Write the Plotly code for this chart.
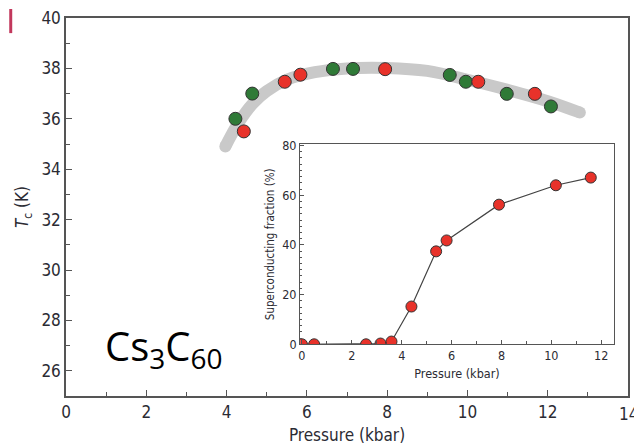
import plotly.graph_objects as go

# Tc vs pressure for Cs3C60 (two sample series)
green_p = [4.22, 4.64, 6.65, 7.15, 9.56, 9.96, 10.98, 12.08]
green_tc = [36.0, 37.0, 37.98, 37.98, 37.74, 37.47, 36.99, 36.49]
red_p = [4.43, 5.45, 5.84, 7.95, 10.27, 11.68]
red_tc = [35.5, 37.47, 37.75, 37.97, 37.47, 36.99]

# guide-to-the-eye band
band_p = [3.97, 4.3, 4.65, 5.0, 5.5, 6.2, 7.0, 8.0, 9.0, 10.0, 11.0, 12.0, 12.8]
band_tc = [34.9, 35.85, 36.6, 37.1, 37.55, 37.85, 38.0, 38.02, 37.9, 37.55, 37.15, 36.7, 36.25]

# inset: superconducting fraction vs pressure
frac_p = [0.0, 0.49, 2.57, 3.15, 3.59, 4.39, 5.38, 5.8, 7.9, 10.18, 11.58]
frac_pct = [0.0, 0.0, 0.0, 0.3, 1.1, 15.2, 37.4, 41.8, 56.2, 64.0, 67.1]

main_ticks = [0, 2, 4, 6, 8, 10, 12, 14]
tc_ticks = [26, 28, 30, 32, 34, 36, 38, 40]
inset_xticks = [0, 2, 4, 6, 8, 10, 12]
inset_yticks = [0, 20, 40, 60, 80]

FONT = "DejaVu Sans Condensed, Liberation Sans Narrow, Liberation Sans, sans-serif"
AXC = "#555555"
TXT = "#2b2b33"
GREEN = "#2f7a37"
RED = "#e8322a"

fig = go.Figure()

fig.add_trace(go.Scatter(
    x=band_p, y=band_tc, mode="lines", line=dict(color="#c9c9c9", width=12, shape="spline"),
    hoverinfo="skip", showlegend=False))
fig.add_trace(go.Scatter(
    x=[band_p[0], band_p[-1]], y=[band_tc[0], band_tc[-1]], mode="markers",
    marker=dict(color="#c9c9c9", size=12, line=dict(width=0)), hoverinfo="skip", showlegend=False))

marker_line = dict(color="#333333", width=1)
fig.add_trace(go.Scatter(x=green_p, y=green_tc, mode="markers",
                         marker=dict(color=GREEN, size=13, line=marker_line), showlegend=False))
fig.add_trace(go.Scatter(x=red_p, y=red_tc, mode="markers",
                         marker=dict(color=RED, size=13, line=marker_line), showlegend=False))

fig.add_trace(go.Scatter(
    x=frac_p, y=frac_pct, mode="lines+markers", xaxis="x2", yaxis="y2",
    line=dict(color="#444444", width=1.2),
    marker=dict(color=RED, size=11, line=marker_line), showlegend=False))

fig.update_layout(
    width=634, height=446,
    margin=dict(l=66, r=4, t=18, b=50),
    paper_bgcolor="white", plot_bgcolor="white",
    font=dict(family=FONT, color=TXT),
    xaxis=dict(
        range=[0, 14], tickvals=main_ticks, ticks="inside", ticklen=6, tickwidth=1.2,
        tickcolor=AXC, showline=True, linecolor=AXC, linewidth=1.5, mirror=True,
        showgrid=False, zeroline=False, tickfont=dict(size=17, color=TXT),
        minor=dict(dtick=1, ticks="inside", ticklen=4, tickcolor=AXC),
        title=dict(text="Pressure (kbar)", font=dict(size=17, color=TXT), standoff=8)),
    yaxis=dict(
        range=[25, 40], tickvals=tc_ticks, ticks="inside", ticklen=6, tickwidth=1.2,
        tickcolor=AXC, showline=True, linecolor=AXC, linewidth=1.5, mirror=True,
        showgrid=False, zeroline=False, tickfont=dict(size=17, color=TXT),
        minor=dict(dtick=1, ticks="inside", ticklen=4, tickcolor=AXC),
        title=dict(text="<i>T</i><sub>c</sub> (K)", font=dict(size=17, color=TXT), standoff=8)),
    xaxis2=dict(
        domain=[0.4167, 0.9746], anchor="y2", range=[-0.07, 12.5],
        tickvals=inset_xticks, ticks="inside", ticklen=4, tickcolor=AXC,
        showline=True, linecolor=AXC, linewidth=1.3, mirror=True,
        showgrid=False, zeroline=False, tickfont=dict(size=12.5, color=TXT),
        minor=dict(dtick=1, ticks="inside", ticklen=3, tickcolor=AXC),
        title=dict(text="Pressure (kbar)", font=dict(size=12.5, color=TXT), standoff=6)),
    yaxis2=dict(
        domain=[0.1368, 0.6659], anchor="x2", range=[0, 80.5],
        tickvals=inset_yticks, ticks="inside", ticklen=4, tickcolor=AXC,
        showline=True, linecolor=AXC, linewidth=1.3, mirror=True,
        showgrid=False, zeroline=False, tickfont=dict(size=12.5, color=TXT),
        minor=dict(dtick=2.5, ticks="inside", ticklen=2, tickcolor=AXC),
        title=dict(text="Superconducting fraction (%)", font=dict(size=11.5, color=TXT), standoff=5)),
    annotations=[
        dict(text="Cs<sub>3</sub>C<sub>60</sub>", x=0.066, y=0.128, xref="paper", yref="paper",
             xanchor="left", yanchor="middle", showarrow=False,
             font=dict(family="Open Sans, Lato, sans-serif", size=40, color="black")),
        dict(text="14", x=14, y=0, xref="x", yref="paper", xanchor="center", yanchor="top",
             yshift=-6, showarrow=False, font=dict(size=17, color=TXT)),
    ],
    shapes=[dict(type="rect", xref="paper", yref="paper", x0=-0.101, x1=-0.0957,
                 y0=0.960, y1=1.0238, fillcolor="#c2385c", line=dict(width=0))],
)

fig.write_html("out.html")
